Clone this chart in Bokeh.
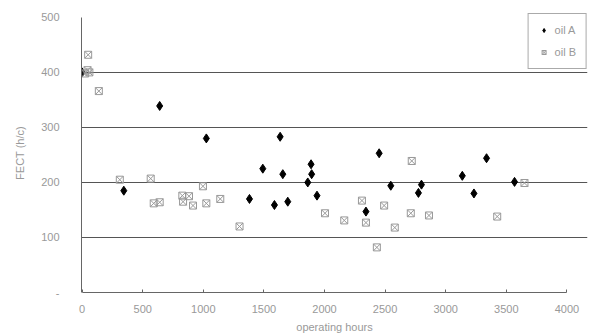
from bokeh.plotting import figure
from bokeh.models import FixedTicker, Legend, LegendItem, Range1d
from bokeh.embed import file_html
from bokeh.resources import INLINE

# Data (operating hours, FECT)
oilA_x = [0, 344, 640, 1025, 1381, 1491, 1587, 1634, 1656, 1697, 1862, 1889, 1894, 1938,
          2342, 2451, 2547, 2775, 2800, 3137, 3233, 3337, 3568]
oilA_y = [400, 185, 339, 280, 170, 225, 159, 283, 215, 165, 200, 233, 215, 176,
          147, 253, 194, 181, 196, 212, 180, 244, 201]

oilB_x = [50, 25, 45, 60, 138, 311, 566, 591, 640, 827, 882, 833, 915, 997, 1025, 1140, 1299,
          2004, 2163, 2309, 2342, 2432, 2492, 2580, 2712, 2720, 2862, 3425, 3650]
oilB_y = [432, 398, 404, 400, 366, 205, 207, 162, 164, 176, 175, 165, 158, 193, 162, 170, 120,
          144, 131, 167, 127, 82, 158, 118, 144, 239, 140, 138, 199]

x_ticks = [0, 500, 1000, 1500, 2000, 2500, 3000, 3500, 4000]
y_ticks = [0, 100, 200, 300, 400, 500]
grid_ticks = [100, 200, 300, 400]

p = figure(width=600, height=335, output_backend="svg", toolbar_location=None,
           x_range=Range1d(-5, 4170), y_range=Range1d(0, 507),
           min_border_left=81, min_border_right=13, min_border_top=13, min_border_bottom=42)
p.outline_line_color = None
p.background_fill_color = "white"

ra = p.scatter(oilA_x, oilA_y, marker="diamond", size=9, fill_color="black", line_color="black")
rb = p.scatter(oilB_x, oilB_y, marker="square_x", size=7, fill_color=None, line_color="#999999",
               line_width=1)

# axes
xa = p.xaxis[0]
xa.ticker = FixedTicker(ticks=x_ticks)
xa.bounds = (0, 4000)
xa.axis_label = "operating hours"
xa.major_tick_in = 3
xa.major_tick_out = 0
xa.minor_tick_line_color = None
xa.major_label_standoff = 12
xa.axis_label_standoff = 5

ya = p.yaxis[0]
ya.ticker = FixedTicker(ticks=y_ticks)
ya.bounds = (0, 500)
ya.axis_label = "FECT (h/c)"
ya.major_tick_in = 0
ya.major_tick_out = 0
ya.minor_tick_line_color = None
ya.major_label_standoff = 22
ya.axis_label_standoff = 12
ya.major_label_overrides = {0: "-"}

for ax in (xa, ya):
    ax.axis_line_color = "#666666"
    ax.major_tick_line_color = "#666666"
    ax.major_label_text_color = "#999999"
    ax.major_label_text_font = "Liberation Sans"
    ax.major_label_text_font_size = "11px"
    ax.axis_label_text_color = "#999999"
    ax.axis_label_text_font = "Liberation Sans"
    ax.axis_label_text_font_size = "11px"
    ax.axis_label_text_font_style = "normal"

p.xgrid.grid_line_color = None
p.ygrid.ticker = FixedTicker(ticks=grid_ticks)
p.ygrid.grid_line_color = "#555555"
p.ygrid.grid_line_width = 1

legend = Legend(items=[LegendItem(label="oil A", renderers=[ra]),
                       LegendItem(label="oil B", renderers=[rb])],
                location="top_right", margin=0, padding=10, spacing=10,
                label_standoff=6, glyph_width=10, glyph_height=10,
                border_line_color="#555555", border_line_width=1,
                label_text_color="#999999", label_text_font="Liberation Sans",
                label_text_font_size="11px", background_fill_alpha=1)
p.add_layout(legend, "center")

open("out.html", "w").write(file_html(p, INLINE))
